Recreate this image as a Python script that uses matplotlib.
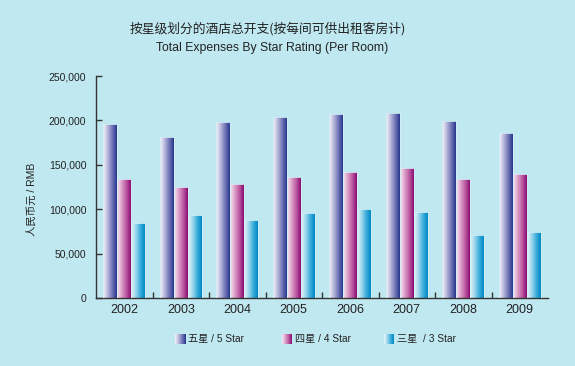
import numpy as np
import matplotlib
matplotlib.use("Agg")
import matplotlib.pyplot as plt
from matplotlib.colors import LinearSegmentedColormap

years = ["2002", "2003", "2004", "2005", "2006", "2007", "2008", "2009"]
five_star = [195600, 181000, 197900, 203500, 206900, 208000, 199000, 185500]
four_star = [133700, 124700, 128000, 135900, 141600, 146000, 133700, 139300]
three_star = [84100, 93100, 87500, 95400, 99900, 96500, 70600, 74000]
series_labels = ["五星 / 5 Star", "四星 / 4 Star", "三星  / 3 Star"]
title_cn = "按星级划分的酒店总开支(按每间可供出租客房计)"
title_en = "Total Expenses By Star Rating (Per Room)"
ylabel = "人民币元 / RMB"

BG = "#c0e8f0"
cmaps = [
    LinearSegmentedColormap.from_list("c5", ["#f6f4fb", "#b8b8dc", "#7076b6", "#28368e"]),
    LinearSegmentedColormap.from_list("c4", ["#f8eaf4", "#dca0c8", "#bc5aa2", "#8a0c72"]),
    LinearSegmentedColormap.from_list("c3", ["#eaf6fb", "#9cd6ec", "#3caedb", "#0088c4"]),
]

CJK = ["Noto Sans CJK SC", "DejaVu Sans"]
LAT = ["Liberation Sans", "Noto Sans CJK SC", "DejaVu Sans"]

fig = plt.figure(figsize=(5.75, 3.66), dpi=100, facecolor=BG)
ax = fig.add_axes([96/575, 1-298/366, 452/575, 222/366], facecolor=BG)

x = np.arange(len(years))
w = 0.245
grad = np.linspace(0, 1, 64).reshape(1, -1)
for i, vals in enumerate([five_star, four_star, three_star]):
    bars = ax.bar(x + (i - 1) * w, vals, width=w, color="none",
                  edgecolor="#d4eef6", linewidth=0.6, zorder=3)
    for b in bars:
        bx, by = b.get_x(), b.get_y()
        im = ax.imshow(grad, cmap=cmaps[i], aspect="auto",
                       extent=[bx, bx + b.get_width(), by, by + b.get_height()],
                       zorder=2, interpolation="bilinear")
        im.set_clip_path(b)

ax.set_xlim(-0.5, len(years) - 0.5)
ax.set_ylim(0, 250000)
ax.set_xticks(x)
ax.set_xticklabels(years, fontsize=9, family=LAT, color="#222222")
ax.tick_params(axis="x", length=0, pad=4)
ax.set_xticks(np.arange(0.5, len(years) - 0.5, 1), minor=True)
ax.tick_params(axis="x", which="minor", direction="in", length=4, width=1, color="#333333")
ax.set_yticks(np.arange(0, 250001, 50000))
ax.set_yticklabels([f"{v:,}" for v in range(0, 250001, 50000)], fontsize=7.5, family=LAT, color="#222222")
ax.tick_params(axis="y", direction="in", length=4, width=1, color="#333333", pad=7)
for s in ["top", "right"]:
    ax.spines[s].set_visible(False)
for s in ["left", "bottom"]:
    ax.spines[s].set_color("#333333")
    ax.spines[s].set_linewidth(1.0)

fig.text(32/575, 1-199/366, ylabel, rotation=90, ha="center", va="center",
         fontsize=7.5, family=LAT, color="#222222")
fig.text(268/575, 1-29/366, title_cn, ha="center", va="center", fontsize=9.2, family=CJK, color="#222222")
fig.text(272/575, 1-48/366, title_en, ha="center", va="center", fontsize=8.8, family=LAT, color="#222222")

# legend
leg_x = [175, 282, 384]
for i, lx in enumerate(leg_x):
    lax = fig.add_axes([lx/575, 1-344/366, 10/575, 10/366])
    lax.imshow(grad, cmap=cmaps[i], aspect="auto", interpolation="bilinear")
    lax.axis("off")
    fig.text((lx + 13)/575, 1-339/366, series_labels[i], ha="left", va="center",
             fontsize=7.3, family=LAT, color="#222222")

fig.savefig("out.png", dpi=100, facecolor=BG)
